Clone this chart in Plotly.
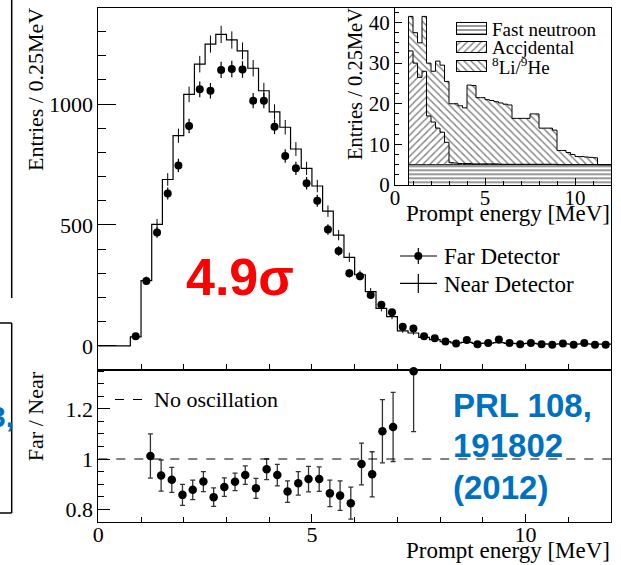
import math
import plotly.graph_objects as go

W, H = 621, 565

# ---------------- data ----------------
bin_width = 0.25
bin_low_edges = [0.75, 1.00, 1.25, 1.50, 1.75, 2.00, 2.25, 2.50, 2.75, 3.00,
                 3.25, 3.50, 3.75, 4.00, 4.25, 4.50, 4.75, 5.00, 5.25, 5.50,
                 5.75, 6.00, 6.25, 6.50, 6.75, 7.00, 7.25, 7.50, 7.75, 8.00,
                 8.25, 8.50, 8.75, 9.00, 9.25, 9.50, 9.75, 10.00, 10.25, 10.50,
                 10.75, 11.00, 11.25, 11.50, 11.75]

far_counts = [40, 268, 469, 630, 746, 909, 1061, 1055, 1141, 1145,
              1143, 1014, 1014, 906, 785, 734, 672, 600, 481, 392,
              300, 288, 210, 170, 139, 79, 72, 40, 31, 18,
              10, 24, 7, 12, 26, 12, 7, 12, 7, 4,
              10, 4, 12, 4, 4]

near_counts = [37, 270, 502, 688, 869, 1040, 1165, 1248, 1288, 1265,
               1220, 1148, 1055, 968, 904, 814, 734, 661, 557, 458,
               366, 294, 224, 155, 121, 62, 53, 35, 26, 17,
               12, 14, 10, 11, 13, 10, 9, 10, 8, 7,
               8, 7, 8, 7, 7]

ratio_energy = [1.22, 1.47, 1.72, 1.97, 2.21, 2.46, 2.70, 2.95, 3.20, 3.44,
                3.69, 3.94, 4.19, 4.43, 4.68, 4.92, 5.17, 5.42, 5.66, 5.91,
                6.16, 6.41, 6.65, 6.90, 7.38]
ratio_value = [1.012, 0.934, 0.917, 0.857, 0.877, 0.910, 0.848, 0.888, 0.909, 0.936,
               0.883, 0.959, 0.936, 0.870, 0.903, 0.920, 0.920, 0.863, 0.854, 0.824,
               0.980, 0.939, 1.111, 1.128, 1.350]
ratio_error = [0.088, 0.062, 0.050, 0.042, 0.039, 0.040, 0.037, 0.037, 0.035, 0.037,
               0.040, 0.041, 0.043, 0.043, 0.047, 0.051, 0.049, 0.053, 0.059, 0.064,
               0.083, 0.090, 0.126, 0.138, 0.241]

# inset background spectra (Entries / 0.25 MeV)
fast_neutron = [5.0, 5.0, 5.0, 5.0, 5.0, 5.0, 5.0, 5.0, 5.0, 5.0,
                5.0, 5.0, 5.0, 5.0, 5.0, 5.0, 5.0, 5.0, 5.0, 5.0,
                5.0, 5.0, 5.0, 5.0, 5.0, 5.0, 5.0, 5.0, 5.0, 5.0,
                5.0, 5.0, 5.0, 5.0, 5.0, 5.0, 5.0, 5.0, 5.0, 5.0,
                5.0, 5.0, 5.0, 5.0, 5.0]
accidental = [28.0, 25.0, 21.5, 23.0, 12.0, 10.5, 9.0, 8.0, 5.5, 0.5,
              0.4, 0.3, 0.3, 0.3, 0.2, 0.2, 0.2, 0.2, 0.2, 0.2,
              0.1, 0.1, 0.1, 0.1, 0.1, 0.1, 0.1, 0.1, 0.1, 0.1,
              0.1, 0.1, 0.1, 0.0, 0.0, 0.0, 0.0, 0.0, 0.0, 0.0,
              0.0, 0.0, 0.0, 0.0, 0.0]
li_he = [8.5, 7.5, 8.5, 13.5, 13.0, 12.5, 16.5, 16.5, 15.0, 14.5,
         14.6, 14.2, 13.7, 19.3, 19.3, 16.3, 16.3, 15.8, 15.6, 15.3,
         15.1, 14.8, 14.6, 11.3, 11.3, 11.3, 11.3, 12.4, 12.4, 8.9,
         8.9, 8.9, 8.4, 3.5, 3.5, 3.0, 2.5, 2.0, 2.0, 1.9,
         1.8, 1.7, 0.0, 0.0, 0.0]

main_ytitle = "Entries / 0.25MeV"
ratio_ytitle = "Far / Near"
xtitle = "Prompt energy [MeV]"
legend_main = ["Far Detector", "Near Detector"]
legend_inset = ["Fast neutroon", "Accjdental", "<sup>8</sup>Li/<sup>9</sup>He"]

# ---------------- helpers ----------------
def PX(x):
    return x / W

def PY(y):
    return 1 - y / H

SERIF = "Liberation Serif, 'Times New Roman', Times, 'DejaVu Serif', serif"
SANS = "Liberation Sans, Arial, 'DejaVu Sans', sans-serif"

centers = [e + bin_width / 2 for e in bin_low_edges]
x_hi = bin_low_edges[-1] + bin_width

fig = go.Figure()

# ---------------- main panel ----------------
near_x = [0.0] + bin_low_edges + [x_hi]
near_y = [0] + near_counts + [near_counts[-1]]
fig.add_trace(go.Scatter(x=near_x, y=near_y, mode="lines", line=dict(shape="hv", color="black", width=1.2),
                         xaxis="x", yaxis="y", hoverinfo="skip"))
fig.add_trace(go.Scatter(x=centers, y=near_counts, mode="markers",
                         marker=dict(size=1, color="black"),
                         error_y=dict(type="data", array=[math.sqrt(v) for v in near_counts],
                                      thickness=1, width=0, color="black"),
                         xaxis="x", yaxis="y", hoverinfo="skip"))
fig.add_trace(go.Scatter(x=centers, y=far_counts, mode="markers",
                         marker=dict(size=8, color="black", symbol="circle"),
                         error_y=dict(type="data", array=[math.sqrt(v) for v in far_counts],
                                      thickness=1.2, width=0, color="black"),
                         xaxis="x", yaxis="y", hoverinfo="skip"))

# ---------------- ratio panel ----------------
RATIO_TOP = 1.355
r_up = [min(e, RATIO_TOP - v) for v, e in zip(ratio_value, ratio_error)]
fig.add_trace(go.Scatter(x=ratio_energy, y=ratio_value, mode="markers",
                         marker=dict(size=8.5, color="black"),
                         error_y=dict(type="data", symmetric=False, array=r_up, arrayminus=ratio_error,
                                      thickness=1.3, width=2.5, color="#333333"),
                         cliponaxis=False, xaxis="x2", yaxis="y2", hoverinfo="skip"))

# ---------------- inset (stacked hatched histograms) ----------------
patt = [dict(shape="-", size=4, solidity=0.4, fgcolor="black", bgcolor="white"),
        dict(shape="/", size=5, solidity=0.28, fgcolor="black", bgcolor="white"),
        dict(shape="\\", size=5, solidity=0.28, fgcolor="black", bgcolor="white")]

for i, comp in enumerate([fast_neutron, accidental, li_he]):
    fig.add_trace(go.Bar(x=centers, y=comp, width=bin_width,
                         marker=dict(color="white", line=dict(width=0), pattern=patt[i]),
                         xaxis="x3", yaxis="y3", hoverinfo="skip"))

stack1 = fast_neutron
stack2 = [a + b for a, b in zip(stack1, accidental)]
stack3 = [a + b for a, b in zip(stack2, li_he)]
inset_x = [bin_low_edges[0]] + bin_low_edges + [x_hi]
for s in [stack1, stack2, stack3]:
    fig.add_trace(go.Scatter(x=inset_x, y=[0] + s + [s[-1]], mode="lines",
                             line=dict(shape="hv", color="black", width=1),
                             xaxis="x3", yaxis="y3", hoverinfo="skip"))

# inset legend boxes (pixel overlay axis)
box_rows = [(23, 35), (42, 53), (61, 72)]
box_x0, box_x1 = 457, 487
for i, (y0, y1) in enumerate(box_rows):
    fig.add_trace(go.Bar(x=[(box_x0 + box_x1) / 2], y=[y1 - y0], base=[y0], width=[box_x1 - box_x0],
                         marker=dict(color="white", line=dict(width=1, color="black"), pattern=patt[i]),
                         xaxis="x4", yaxis="y4", hoverinfo="skip"))

# ---------------- layout ----------------
X0, X1 = PX(98.3), PX(611)
common = dict(showline=True, linecolor="black", linewidth=1, mirror=True, ticks="inside",
              tickcolor="black", showgrid=False, zeroline=False, automargin=False)

fig.update_layout(
    width=W, height=H, autosize=False,
    margin=dict(l=0, r=0, t=0, b=0, pad=0, autoexpand=False),
    paper_bgcolor="white", plot_bgcolor="rgba(0,0,0,0)", showlegend=False,
    barmode="stack", bargap=0,
    font=dict(family=SERIF, size=22, color="black"),
    xaxis=dict(domain=[X0, X1], range=[0, 12], anchor="y", dtick=1, tick0=0, ticklen=6,
               showticklabels=False, **common),
    yaxis=dict(domain=[PY(370), PY(8.3)], range=[-100, 1396], anchor="x", tick0=0, dtick=500,
               ticklen=18, tickfont=dict(size=22, family=SERIF),
               minor=dict(dtick=100, tick0=0, ticklen=8, ticks="inside", tickcolor="black", showgrid=False),
               **common),
    xaxis2=dict(domain=[X0, X1], range=[0, 12], anchor="y2", tick0=0, dtick=5, ticklen=8,
                tickfont=dict(size=22, family=SERIF), ticklabelstandoff=-7,
                minor=dict(dtick=1, tick0=0, ticklen=5, ticks="inside", tickcolor="black", showgrid=False),
                **common),
    yaxis2=dict(domain=[PY(521.7), PY(370)], range=[0.75, RATIO_TOP], anchor="x2",
                tickvals=[0.8, 1.0, 1.2], ticktext=["0.8", "1", "1.2"], ticklen=12,
                tickfont=dict(size=22, family=SERIF),
                minor=dict(tickmode="linear", tick0=0.75, dtick=0.05, ticklen=6, ticks="inside",
                           tickcolor="black", showgrid=False),
                **common),
    xaxis3=dict(domain=[PX(395), PX(611)], range=[0, 12], anchor="y3", tick0=0, dtick=5, ticklen=7,
                tickfont=dict(size=21, family=SERIF), ticklabelstandoff=-6,
                minor=dict(dtick=1, tick0=0, ticklen=4, ticks="inside", tickcolor="black", showgrid=False),
                **common),
    yaxis3=dict(domain=[PY(185), PY(8.3)], range=[0, 43.5], anchor="x3", tick0=0, dtick=10, ticklen=7,
                tickfont=dict(size=21, family=SERIF),
                minor=dict(dtick=2.5, tick0=0, ticklen=4, ticks="inside", tickcolor="black", showgrid=False),
                **common),
    xaxis4=dict(domain=[0, 1], range=[0, W], anchor="y4", visible=False, fixedrange=True, automargin=False),
    yaxis4=dict(domain=[0, 1], range=[H, 0], anchor="x4", visible=False, fixedrange=True, automargin=False),
)

shapes = []
shapes.append(dict(type="line", xref="x2", yref="y2", x0=0, x1=12, y0=1, y1=1,
                   line=dict(color="black", width=1, dash="dash")))
shapes.append(dict(type="line", xref="paper", yref="paper", x0=PX(400), x1=PX(437), y0=PY(256), y1=PY(256),
                   line=dict(color="black", width=1.2)))
shapes.append(dict(type="line", xref="paper", yref="paper", x0=PX(418.3), x1=PX(418.3), y0=PY(248), y1=PY(264),
                   line=dict(color="black", width=1.2)))
shapes.append(dict(type="circle", xref="paper", yref="paper", x0=PX(414.3), x1=PX(422.3), y0=PY(252), y1=PY(260),
                   fillcolor="black", line=dict(color="black", width=0)))
shapes.append(dict(type="line", xref="paper", yref="paper", x0=PX(400), x1=PX(437), y0=PY(283.3), y1=PY(283.3),
                   line=dict(color="black", width=1.2)))
shapes.append(dict(type="line", xref="paper", yref="paper", x0=PX(418.3), x1=PX(418.3), y0=PY(274), y1=PY(293),
                   line=dict(color="black", width=1.2)))
shapes.append(dict(type="line", xref="paper", yref="paper", x0=PX(115), x1=PX(146), y0=PY(399.5), y1=PY(399.5),
                   line=dict(color="black", width=1, dash="dash")))
# cropped neighbouring-slide frame at the far left
shapes.append(dict(type="line", xref="paper", yref="paper", x0=PX(11.7), x1=PX(11.7), y0=PY(0), y1=PY(298),
                   line=dict(color="black", width=1.5)))
shapes.append(dict(type="line", xref="paper", yref="paper", x0=PX(0), x1=PX(11.7), y0=PY(323), y1=PY(323),
                   line=dict(color="black", width=1.5)))
shapes.append(dict(type="line", xref="paper", yref="paper", x0=PX(11.7), x1=PX(11.7), y0=PY(323), y1=PY(513),
                   line=dict(color="black", width=1.5)))
shapes.append(dict(type="line", xref="paper", yref="paper", x0=PX(0), x1=PX(11.7), y0=PY(513), y1=PY(513),
                   line=dict(color="black", width=1.5)))
fig.update_layout(shapes=shapes)

ann = []
def text(x, y, s, size=22, family=SERIF, color="black", xanchor="left", angle=0, bold=False):
    if bold:
        s = "<b>" + s + "</b>"
    ann.append(dict(x=PX(x), y=PY(y), xref="paper", yref="paper", text=s, showarrow=False,
                    xanchor=xanchor, yanchor="middle", textangle=angle,
                    font=dict(family=family, size=size, color=color)))

text(35, 90, main_ytitle, size=22, xanchor="center", angle=-90)
text(35.5, 416.7, ratio_ytitle, size=22, xanchor="center", angle=-90)
text(612, 550, xtitle, size=23, xanchor="right")
text(442, 256, legend_main[0], size=23)
text(442, 284, legend_main[1], size=23)
text(152, 399.5, "No oscillation", size=22)
text(240, 277, "4.9σ", size=52, family=SANS, color="#ff0000", xanchor="center", bold=True)
text(451, 405, "PRL 108,", size=33, family=SANS, color="#0070c0", bold=True)
text(451, 445.5, "191802", size=33, family=SANS, color="#0070c0", bold=True)
text(451, 487, "(2012)", size=33, family=SANS, color="#0070c0", bold=True)
text(16, 416, "3,", size=30, family=SANS, color="#0070c0", xanchor="right", bold=True)
text(355, 84, main_ytitle, size=20.5, xanchor="center", angle=-90)
text(612, 213, xtitle, size=23, xanchor="right")
text(490, 29, legend_inset[0], size=19)
text(490, 47.5, legend_inset[1], size=19)
text(490, 66, legend_inset[2], size=19)
fig.update_layout(annotations=ann)

fig.write_html("out.html")
